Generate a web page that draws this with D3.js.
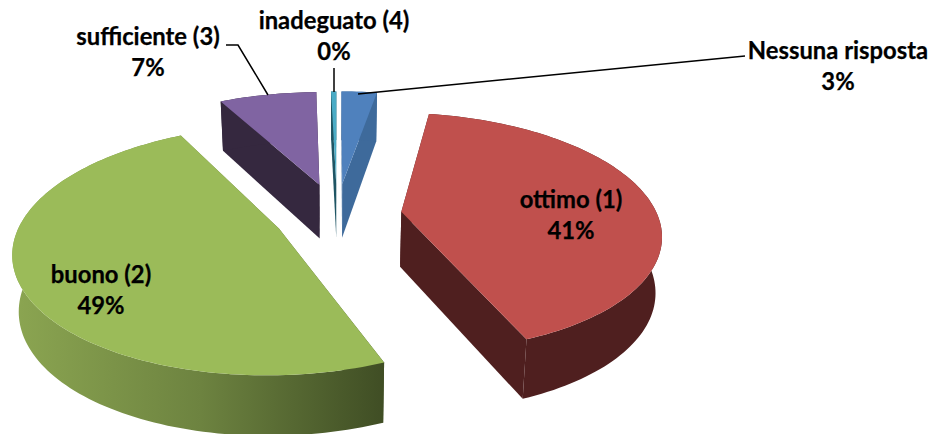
<!DOCTYPE html>
<html><head><meta charset="utf-8">
<script src="https://cdn.jsdelivr.net/npm/d3@7"></script>
<style>html,body{margin:0;padding:0;background:#fff}svg{display:block}text{font-family:Lato,"Open Sans",sans-serif;font-weight:700;font-size:23.8px;fill:#000;stroke:#000;stroke-width:0.25;text-anchor:middle}</style>
</head><body><svg id="c" width="933" height="434"></svg>
<script>
const categories = ["Nessuna risposta","ottimo (1)","buono (2)","sufficiente (3)","inadeguato (4)"];
const values = [2.7,41.4,48.6,7.4,0.4];
const topColors = ["#4f81bd","#c0504d","#9bbb59","#8064a2","#4bacc6"];
const wallColors = ["#3e6a9b","#4f1f1f","url(#greenWall)","#35283f","#1f5564"];
const labelPos = [[838,59],[571,208],[101,283],[148,45],[334,29]];
const leaders = [[[745,56],[358,94]],[],[],[[226,45],[238,45],[268,95]],[[334,68],[334,92]]];
const drawOrder = [3,4,0,1,2];
const nudgeX = [-1,0,0,-3,-1];
const nudgeY = [0,3,4,0,0];

const Cx=338,Cy=212,A=256,B=117,P=0.17,E=0.25;
function project(u,w,z){
  const D=1-P*w;
  return [Cx+A*u/D*(1-0.02*z), Cy+B*w/D+z*(55+5*w)];
}
const svg=d3.select("#c");
const grad=svg.append("defs").append("linearGradient").attr("id","greenWall")
  .attr("gradientUnits","userSpaceOnUse").attr("x1",15).attr("x2",386).attr("y1",0).attr("y2",0);
[[0,"#8ba551"],[0.5,"#6d8340"],[1,"#3f4d24"]].forEach(s=>grad.append("stop").attr("offset",s[0]).attr("stop-color",s[1]));

const arcs=d3.pie().sort(null).startAngle(0).endAngle(2*Math.PI)(values);
const line=d3.line();
function slicePts(d,z){
  const mid=(d.startAngle+d.endAngle)/2, ou=E*Math.sin(mid), ow=-E*Math.cos(mid);
  const n=Math.max(4,Math.ceil((d.endAngle-d.startAngle)*40));
  const pts=[project(ou,ow,z)];
  d3.range(n+1).forEach(i=>{
    const t=d.startAngle+(d.endAngle-d.startAngle)*i/n;
    pts.push(project(ou+Math.sin(t),ow-Math.cos(t),z));
  });
  return pts;
}
drawOrder.forEach(i=>{
  const d=arcs[i], t=slicePts(d,0), b=slicePts(d,1), L=t.length;
  const g=svg.append("g").attr("transform",`translate(${nudgeX[i]},${nudgeY[i]})`);
  const walls=[
    [t[0],t[1],b[1],b[0]],
    [t[0],t[L-1],b[L-1],b[0]],
    t.slice(1).concat(b.slice(1).reverse())
  ];
  walls.forEach(w=>g.append("path").attr("d",line(w)+"Z").attr("fill",wallColors[i]));
  g.append("path").attr("d",line(t)+"Z").attr("fill",topColors[i]);
});
leaders.forEach(l=>{ if(l.length) svg.append("path").attr("d",line(l)).attr("fill","none").attr("stroke","#000").attr("stroke-width",1.5); });
categories.forEach((c,i)=>{
  const t=svg.append("text").attr("x",labelPos[i][0]).attr("y",labelPos[i][1]);
  t.append("tspan").attr("x",labelPos[i][0]).text(c);
  t.append("tspan").attr("x",labelPos[i][0]).attr("dy",31).text(d3.format(".0f")(values[i])+"%");
});
</script></body></html>
